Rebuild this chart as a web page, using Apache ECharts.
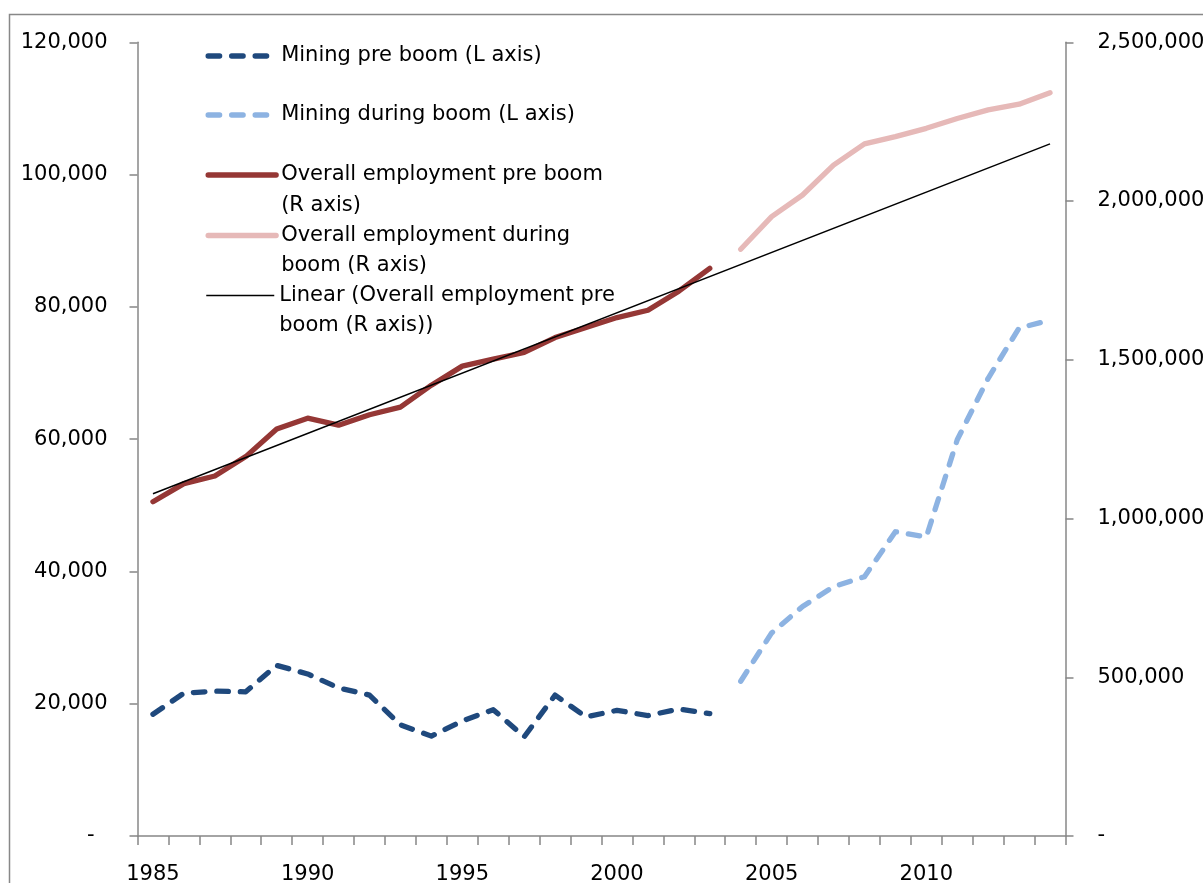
<!DOCTYPE html>
<html><head><meta charset="utf-8">
<script src="https://cdn.jsdelivr.net/npm/echarts@6/dist/echarts.min.js"></script>
<style>html,body{margin:0;padding:0;background:#fff}#c{width:1203px;height:883px}</style>
</head><body><div id="c"></div>
<script>
// ---- data ----
const years = ['1985','1986','1987','1988','1989','1990','1991','1992','1993','1994','1995','1996','1997','1998','1999','2000','2001','2002','2003','2004','2005','2006','2007','2008','2009','2010','2011','2012','2013','2014'];
const miningPreBoom = [18400, 21600, 21900, 21800, 25800, 24500, 22400, 21300, 16800, 15100, 17400, 19100, 15000, 21300, 18000, 19000, 18200, 19200, 18500, null, null, null, null, null, null, null, null, null, null, null];
const miningDuringBoom = [null, null, null, null, null, null, null, null, null, null, null, null, null, null, null, null, null, null, null, 23400, 30700, 34700, 37700, 39200, 46000, 45200, 59900, 69200, 76800, 78000];
const overallPreBoom = [1053000, 1110000, 1134000, 1195000, 1282000, 1316000, 1294000, 1327000, 1351000, 1420000, 1480000, 1502000, 1523000, 1570000, 1602000, 1633000, 1656000, 1716000, 1788000, null, null, null, null, null, null, null, null, null, null, null];
const overallDuringBoom = [null, null, null, null, null, null, null, null, null, null, null, null, null, null, null, null, null, null, null, 1848000, 1951000, 2019000, 2113000, 2180000, 2203000, 2229000, 2260000, 2287000, 2305000, 2341000];
// linear trendline end points, straight line between them
const linearTrend = [1078000, null, null, null, null, null, null, null, null, null, null, null, null, null, null, null, null, null, null, null, null, null, null, null, null, null, null, null, null, 2180000];
const seriesNames = ['Mining pre boom (L axis)', 'Mining during boom (L axis)', 'Overall employment pre boom (R axis)', 'Overall employment during boom (R axis)', 'Linear (Overall employment pre boom (R axis))'];
const legendLabels = ['Mining pre boom (L axis)', 'Mining during boom (L axis)', '\nOverall employment pre boom\n(R axis)', '\nOverall employment during\nboom (R axis)', '\nLinear (Overall employment pre\nboom (R axis))'];
const leftAxis = {min: 0, max: 120000, interval: 20000};
const rightAxis = {min: 0, max: 2500000, interval: 500000};

// ---- styles ----
const FONT = '"DejaVu Sans"';
const FS = 21;
const C_DARKBLUE = '#1F497D', C_LIGHTBLUE = '#8DB3E2', C_DARKRED = '#953735', C_PINK = '#E6B9B8';
const AXIS_COLOR = '#878787';
const DASH = [11.5, 12];
const LH = 30.5;

function fmt(v) { return String(Math.round(v)).replace(/\B(?=(\d{3})+(?!\d))/g, ','); }

const lineStyles = [
  {color: C_DARKBLUE, width: 5.3, type: DASH, cap: 'round', join: 'round'},
  {color: C_LIGHTBLUE, width: 5.3, type: DASH, cap: 'round', join: 'round'},
  {color: C_DARKRED, width: 5.3, type: 'solid', cap: 'round', join: 'round'},
  {color: C_PINK, width: 5.3, type: 'solid', cap: 'round', join: 'round'},
  {color: '#000', width: 1.5, type: 'solid', cap: 'butt', join: 'round'}
];
const iconY = [56, 115, 175, 235.5, 295.5];

const legends = seriesNames.map((name, i) => {
  const nLines = legendLabels[i].split('\n').length;
  const h = nLines * LH;
  return {
    show: true,
    orient: 'vertical',
    left: 205.5,
    top: iconY[i] - h / 2,
    padding: 0,
    itemWidth: 68,
    itemHeight: 14,
    selectedMode: false,
    data: [name],
    formatter: () => legendLabels[i],
    textStyle: {fontFamily: FONT, fontSize: FS, color: '#000', lineHeight: LH},
    itemStyle: {opacity: 0, color: 'rgba(0,0,0,0)', borderWidth: 0},
    lineStyle: Object.assign({}, lineStyles[i])
  };
});

const dataArrays = [miningPreBoom, miningDuringBoom, overallPreBoom, overallDuringBoom, linearTrend];
const series = seriesNames.map((name, i) => ({
  name: name,
  type: 'line',
  yAxisIndex: i < 2 ? 0 : 1,
  data: dataArrays[i],
  symbol: 'none',
  showSymbol: false,
  smooth: false,
  connectNulls: i === 4,
  lineStyle: lineStyles[i],
  itemStyle: {color: lineStyles[i].color},
  z: i === 4 ? 5 : 2,
  animation: false
}));

const axisCommon = {
  axisLine: {show: true, lineStyle: {color: AXIS_COLOR, width: 1.5}},
  axisTick: {show: true, inside: false, length: 8, lineStyle: {color: AXIS_COLOR, width: 1.5}},
  splitLine: {show: false}
};

const chart = echarts.init(document.getElementById('c'), null, {renderer: 'canvas'});
chart.setOption({
  backgroundColor: '#fff',
  animation: false,
  grid: {left: 137.5, right: 137.5, top: 42.3, bottom: 47, containLabel: false, outerBoundsMode: 'none'},
  legend: legends,
  xAxis: {
    type: 'category',
    data: years,
    boundaryGap: true,
    axisLine: {show: true, onZero: false, lineStyle: {color: AXIS_COLOR, width: 1.5}},
    axisTick: {show: true, interval: 0, alignWithLabel: false, length: 9, lineStyle: {color: AXIS_COLOR, width: 1.5}},
    axisLabel: {interval: 4, margin: 28, fontFamily: FONT, fontSize: FS, color: '#000'},
    splitLine: {show: false}
  },
  yAxis: [
    Object.assign({
      type: 'value', position: 'left', min: leftAxis.min, max: leftAxis.max, interval: leftAxis.interval,
      axisLabel: {margin: 30, fontFamily: FONT, fontSize: FS, color: '#000',
        formatter: v => v === 0 ? '{z|-}' : fmt(v),
        rich: {z: {fontFamily: FONT, fontSize: FS, color: '#000', padding: [0, 13, 0, 0]}}}
    }, axisCommon),
    Object.assign({
      type: 'value', position: 'right', min: rightAxis.min, max: rightAxis.max, interval: rightAxis.interval,
      axisLabel: {margin: 32, fontFamily: FONT, fontSize: FS, color: '#000',
        formatter: v => v === 0 ? '-' : fmt(v)}
    }, axisCommon)
  ],
  graphic: [{
    type: 'rect', silent: true, z: -10,
    shape: {x: 9.5, y: 14.5, width: 1400, height: 1000},
    style: {fill: 'none', stroke: '#888', lineWidth: 1.5}
  }],
  series: series
});
</script>
</body></html>
